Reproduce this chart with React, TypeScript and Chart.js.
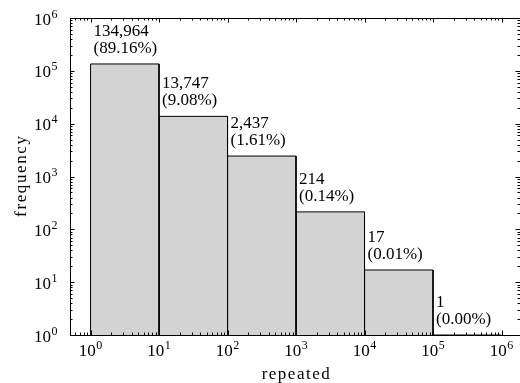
import React, { useEffect, useRef } from "react";
import { Chart, registerables } from "chart.js";

Chart.register(...registerables);

const binEdges = [1, 10, 100, 1000, 10000, 100000, 1000000];
const counts = [134964, 13747, 2437, 214, 17, 1];
const countLabels = ["134,964", "13,747", "2,437", "214", "17", "1"];
const percentLabels = ["(89.16%)", "(9.08%)", "(1.61%)", "(0.14%)", "(0.01%)", "(0.00%)"];
const xTickExponents = [0, 1, 2, 3, 4, 5, 6];
const yTickExponents = [0, 1, 2, 3, 4, 5, 6];
const xTitle = "repeated";
const yTitle = "frequency";

const FONT_FAMILY = '"Liberation Serif", "Times New Roman", serif';
const MAIN_FONT = `17px ${FONT_FAMILY}`;
const SUP_FONT = `12px ${FONT_FAMILY}`;

function drawPow(ctx: CanvasRenderingContext2D, exp: number, x: number, baseline: number, align: "center" | "right") {
  ctx.font = MAIN_FONT;
  const wBase = ctx.measureText("10").width;
  ctx.font = SUP_FONT;
  const wExp = ctx.measureText(String(exp)).width;
  const total = wBase + wExp + 0.5;
  const start = align === "center" ? x - total / 2 : x - total;
  ctx.textAlign = "left";
  ctx.textBaseline = "alphabetic";
  ctx.font = MAIN_FONT;
  ctx.fillText("10", start, baseline);
  ctx.font = SUP_FONT;
  ctx.fillText(String(exp), start + wBase + 0.5, baseline - 7);
}

function drawSpaced(ctx: CanvasRenderingContext2D, text: string, cx: number, baseline: number, spacing: number) {
  const c: any = ctx;
  const prev = c.letterSpacing;
  c.letterSpacing = `${spacing}px`;
  const w = ctx.measureText(text).width - spacing;
  ctx.textAlign = "left";
  ctx.fillText(text, cx - w / 2, baseline);
  c.letterSpacing = prev ?? "0px";
}

const axesPlugin = {
  id: "mplAxes",
  afterDatasetsDraw(chart: any) {
    const ctx: CanvasRenderingContext2D = chart.ctx;
    const xs = chart.scales.x;
    const ys = chart.scales.y;
    ctx.save();
    ctx.fillStyle = "#000";
    ctx.font = MAIN_FONT;
    ctx.textAlign = "left";
    ctx.textBaseline = "alphabetic";
    for (let i = 0; i < counts.length; i++) {
      const x = xs.getPixelForValue(binEdges[i]) + 3;
      const b2 = ys.getPixelForValue(counts[i]) - 11;
      ctx.fillText(countLabels[i], x, b2 - 17);
      ctx.fillText(percentLabels[i], x, b2);
    }
    ctx.restore();
  },
  afterDraw(chart: any) {
    const ctx: CanvasRenderingContext2D = chart.ctx;
    const a = chart.chartArea;
    const xs = chart.scales.x;
    const ys = chart.scales.y;
    ctx.save();
    ctx.strokeStyle = "#000";
    ctx.lineWidth = 1;
    ctx.strokeRect(Math.round(a.left) + 0.5, Math.round(a.top) + 0.5, Math.round(a.right) - Math.round(a.left), Math.round(a.bottom) - Math.round(a.top));
    ctx.beginPath();
    for (let k = -1; k <= 7; k++) {
      for (let m = 1; m <= 9; m++) {
        const v = m * Math.pow(10, k);
        const len = m === 1 ? 4.5 : 2.5;
        if (v >= xs.min && v <= xs.max) {
          const px = Math.round(xs.getPixelForValue(v)) + 0.5;
          ctx.moveTo(px, a.bottom);
          ctx.lineTo(px, a.bottom - len);
          ctx.moveTo(px, a.top);
          ctx.lineTo(px, a.top + len);
        }
        if (v >= ys.min && v <= ys.max) {
          const py = Math.round(ys.getPixelForValue(v)) + 0.5;
          ctx.moveTo(a.left, py);
          ctx.lineTo(a.left + len, py);
          ctx.moveTo(a.right, py);
          ctx.lineTo(a.right - len, py);
        }
      }
    }
    ctx.stroke();
    ctx.fillStyle = "#000";
    for (const e of xTickExponents) {
      const px = xs.getPixelForValue(Math.pow(10, e));
      drawPow(ctx, e, px, a.bottom + 21, "center");
    }
    for (const e of yTickExponents) {
      const py = ys.getPixelForValue(Math.pow(10, e));
      drawPow(ctx, e, a.left - 12.5, py + 6.5, "right");
    }
    ctx.font = MAIN_FONT;
    ctx.textBaseline = "alphabetic";
    drawSpaced(ctx, xTitle, 295.7, 379, 1.5);
    ctx.save();
    ctx.translate(26, (a.top + a.bottom) / 2);
    ctx.rotate(-Math.PI / 2);
    drawSpaced(ctx, yTitle, 0, 0, 1.6);
    ctx.restore();
    ctx.restore();
  },
};

export default function App() {
  const ref = useRef<HTMLCanvasElement | null>(null);
  useEffect(() => {
    if (!ref.current) return;
    const datasets = counts.map((c, i) => ({
      data: [
        { x: binEdges[i], y: 1 },
        { x: binEdges[i], y: c },
        { x: binEdges[i + 1], y: c },
        { x: binEdges[i + 1], y: 1 },
      ],
      showLine: true,
      fill: "start",
      backgroundColor: "#d3d3d3",
      borderColor: "#000",
      borderWidth: 1,
      pointRadius: 0,
      tension: 0,
    }));
    const chart = new Chart(ref.current, {
      type: "scatter",
      data: { datasets } as any,
      options: {
        animation: false,
        responsive: false,
        devicePixelRatio: 1,
        layout: { padding: { left: 70, top: 18, right: 0, bottom: 48 } },
        plugins: { legend: { display: false }, tooltip: { enabled: false } },
        scales: {
          x: { type: "logarithmic", min: Math.pow(10, -0.3), max: Math.pow(10, 6.27), display: false },
          y: { type: "logarithmic", min: 1, max: 1e6, display: false },
        },
      } as any,
      plugins: [axesPlugin],
    });
    return () => chart.destroy();
  }, []);
  return (
    <div style={{ position: "fixed", left: 0, top: 0, width: 520, height: 383, background: "#fff" }}>
      <canvas ref={ref} width={520} height={383} style={{ display: "block" }} />
    </div>
  );
}
